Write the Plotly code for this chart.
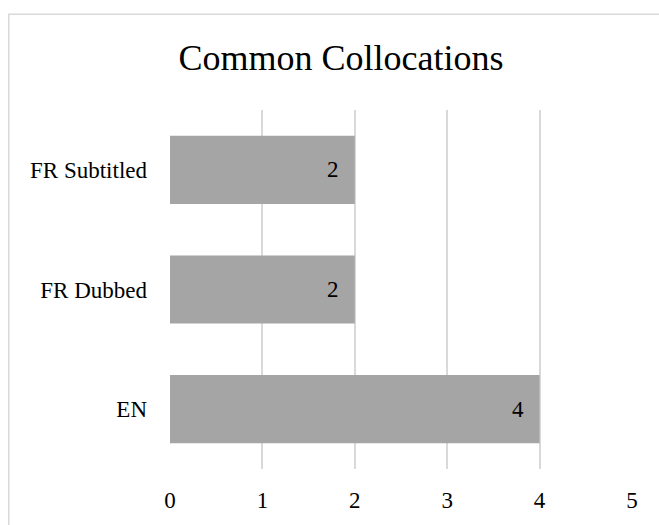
import plotly.graph_objects as go

categories = ["EN", "FR Dubbed", "FR Subtitled"]
counts = [4, 2, 2]
x_ticks = [0, 1, 2, 3, 4, 5]

SERIF = "Liberation Serif"

fig = go.Figure(
    go.Bar(
        y=categories,
        x=counts,
        orientation="h",
        marker=dict(color="#A5A5A5", line=dict(width=0)),
        hoverinfo="skip",
    )
)

# value labels just inside the end of each bar
for cat, val in zip(categories, counts):
    fig.add_annotation(
        x=val, y=cat, text=str(val), showarrow=False,
        xanchor="right", xshift=-14,
        font=dict(family=SERIF, size=23, color="#000000"),
    )

# chart frame
fig.add_shape(
    type="rect", xref="paper", yref="paper",
    x0=-0.349, x1=1.5, y0=-0.5, y1=1.267,
    line=dict(color="#D9D9D9", width=1.5), fillcolor="rgba(0,0,0,0)",
    layer="below",
)

fig.update_layout(
    width=659, height=525,
    margin=dict(l=170, r=27, t=110, b=52),
    paper_bgcolor="white", plot_bgcolor="white",
    bargap=0.43,
    showlegend=False,
    font=dict(family=SERIF, color="#000000"),
    title=dict(
        text="Common Collocations",
        x=0.37, xref="paper", xanchor="center",
        y=1 - 57 / 525, yanchor="middle",
        font=dict(family=SERIF, size=36, color="#000000"),
    ),
    xaxis=dict(
        range=[0, 5], tickvals=x_ticks,
        showgrid=True, gridcolor="#D9D9D9", gridwidth=1.5,
        zeroline=False, showline=False, ticks="",
        tickfont=dict(family=SERIF, size=23, color="#000000"),
        ticklabelstandoff=15, fixedrange=True,
    ),
    yaxis=dict(
        categoryorder="array", categoryarray=categories,
        showgrid=False, zeroline=False, showline=False, ticks="",
        tickfont=dict(family=SERIF, size=23, color="#000000"),
        ticklabelstandoff=22, fixedrange=True,
    ),
)

fig.write_html("out.html")
